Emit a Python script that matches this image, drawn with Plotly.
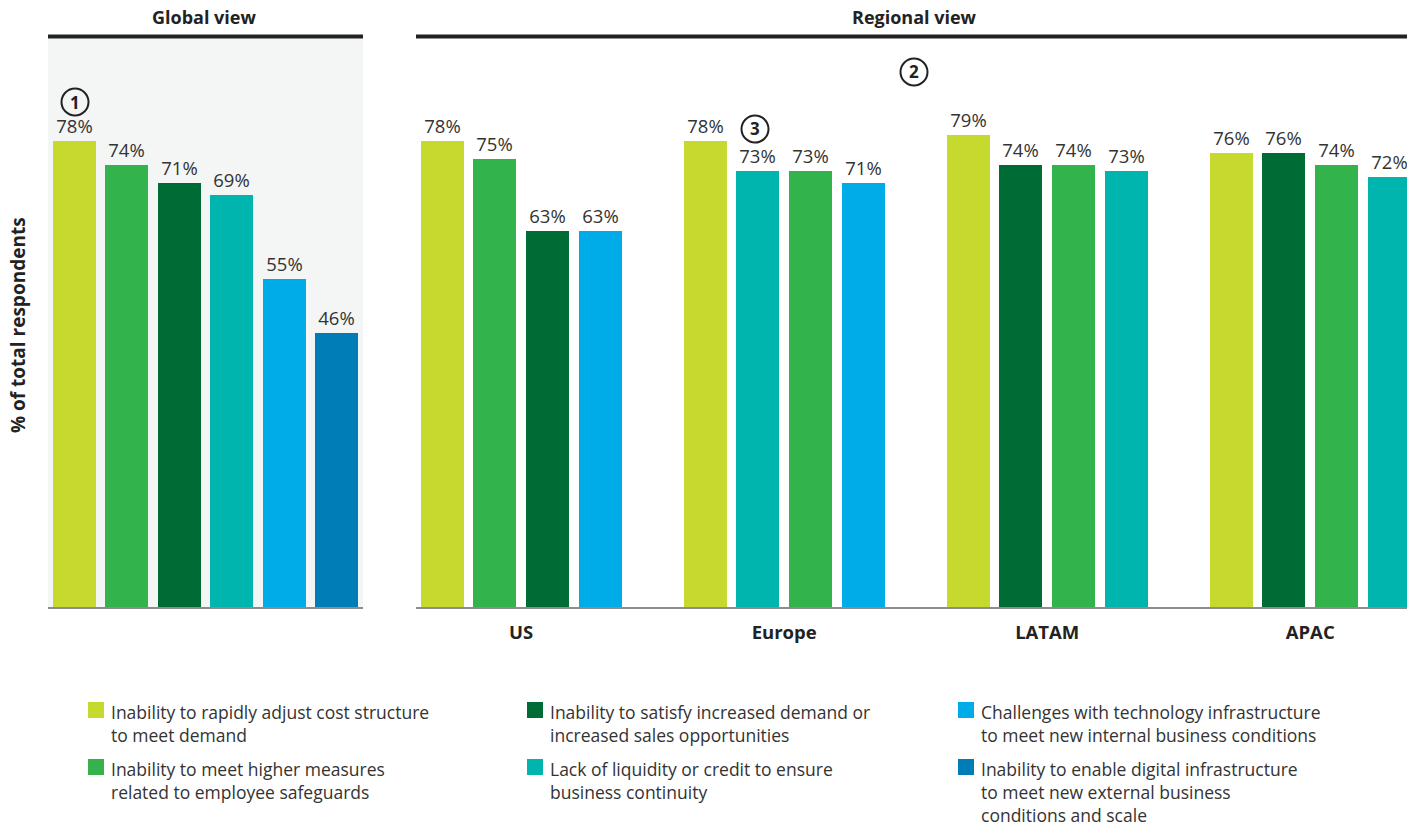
import plotly.graph_objects as go

W, H = 1407, 827

# ---------------- data ----------------
factor_labels = [
    "Inability to rapidly adjust cost structure<br>to meet demand",
    "Inability to meet higher measures<br>related to employee safeguards",
    "Inability to satisfy increased demand or<br>increased sales opportunities",
    "Lack of liquidity or credit to ensure<br>business continuity",
    "Challenges with technology infrastructure<br>to meet new internal business conditions",
    "Inability to enable digital infrastructure<br>to meet new external business<br>conditions and scale",
]
factor_colors = ["#C5D92E", "#33B34B", "#006C35", "#00B5AD", "#00ACE7", "#007DB6"]

global_factors = [0, 1, 2, 3, 4, 5]
global_values = [78, 74, 71, 69, 55, 46]

regions = ["US", "Europe", "LATAM", "APAC"]
us_factors = [0, 1, 2, 4]
us_values = [78, 75, 63, 63]
europe_factors = [0, 3, 1, 4]
europe_values = [78, 73, 73, 71]
latam_factors = [0, 2, 1, 3]
latam_values = [79, 74, 74, 73]
apac_factors = [0, 2, 1, 3]
apac_values = [76, 76, 74, 72]

region_factors = [us_factors, europe_factors, latam_factors, apac_factors]
region_values = [us_values, europe_values, latam_values, apac_values]

# ---------------- helpers ----------------
def px(x):
    return x / W


def py(y):
    return 1 - y / H


FONT = "Open Sans"
TXT = "#333333"
DARK = "#222222"
BASE_Y = 607
Y_TOP = 9.6
GROUP_STEP = 5

fig = go.Figure()

# global view bars
fig.add_trace(go.Bar(
    x=list(range(len(global_values))),
    y=global_values,
    marker=dict(color=[factor_colors[f] for f in global_factors], line=dict(width=0)),
    width=0.82,
    texttemplate="%{y}%",
    textposition="outside",
    textfont=dict(family=FONT, size=18.5, color=TXT),
    constraintext="none",
    cliponaxis=False,
    xaxis="x", yaxis="y",
    showlegend=False,
    hoverinfo="skip",
))

# regional view bars
for r, (facs, vals) in enumerate(zip(region_factors, region_values)):
    fig.add_trace(go.Bar(
        x=[GROUP_STEP * r + j for j in range(len(vals))],
        y=vals,
        marker=dict(color=[factor_colors[f] for f in facs], line=dict(width=0)),
        width=0.82,
        texttemplate="%{y}%",
        textposition="outside",
        textfont=dict(family=FONT, size=18.5, color=TXT),
        constraintext="none",
        cliponaxis=False,
        xaxis="x2", yaxis="y",
        showlegend=False,
        hoverinfo="skip",
        name=regions[r],
    ))

ydom = [py(BASE_Y), py(Y_TOP)]
reg_left, reg_right = 416, W
unit = 52.6

fig.update_layout(
    width=W, height=H,
    margin=dict(l=0, r=0, t=0, b=0, pad=0),
    paper_bgcolor="white",
    plot_bgcolor="rgba(0,0,0,0)",
    font=dict(family=FONT, color=TXT),
    showlegend=False,
    bargap=0,
    xaxis=dict(
        domain=[px(48), px(363)], range=[-0.5, 5.5], anchor="y",
        showticklabels=False, showgrid=False, zeroline=False,
        showline=True, linecolor="#8C8C8C", linewidth=2, ticks="",
        fixedrange=True,
    ),
    xaxis2=dict(
        domain=[px(reg_left), 1], range=[-0.5, -0.5 + (reg_right - reg_left) / unit], anchor="y",
        tickvals=[GROUP_STEP * r + 1.5 for r in range(len(regions))],
        ticktext=["<b>%s</b>" % g for g in regions],
        tickfont=dict(family=FONT, size=18.5, color=DARK),
        ticks="outside", ticklen=8, tickcolor="rgba(0,0,0,0)",
        showgrid=False, zeroline=False,
        showline=True, linecolor="#8C8C8C", linewidth=2,
        fixedrange=True,
    ),
    yaxis=dict(
        domain=ydom, range=[0, 100], visible=False, fixedrange=True,
    ),
)

shapes = []
annotations = []

# global panel background
shapes.append(dict(type="rect", xref="paper", yref="paper",
                   x0=px(48), x1=px(363), y0=py(BASE_Y), y1=py(38),
                   fillcolor="#F4F6F6", line=dict(width=0), layer="below"))
# header rules
for x0, x1 in [(48, 363), (416, W)]:
    shapes.append(dict(type="line", xref="paper", yref="paper",
                       x0=px(x0), x1=px(x1), y0=py(36.5), y1=py(36.5),
                       line=dict(color=DARK, width=4)))

annotations.append(dict(text="<b>Global view</b>", x=px(204), y=py(17), xref="paper", yref="paper",
                        showarrow=False, font=dict(family=FONT, size=18, color=DARK),
                        xanchor="center", yanchor="middle"))
annotations.append(dict(text="<b>Regional view</b>", x=px(914), y=py(17), xref="paper", yref="paper",
                        showarrow=False, font=dict(family=FONT, size=18, color=DARK),
                        xanchor="center", yanchor="middle"))
annotations.append(dict(text="<b>% of total respondents</b>", x=px(18), y=py(325), xref="paper", yref="paper",
                        showarrow=False, textangle=-90, font=dict(family=FONT, size=19, color=DARK),
                        xanchor="center", yanchor="middle"))

# circled callouts
for num, cx, cy in [("1", 75, 102), ("2", 914, 72), ("3", 755, 129)]:
    rad = 13.5
    shapes.append(dict(type="circle", xref="paper", yref="paper",
                       x0=px(cx - rad), x1=px(cx + rad), y0=py(cy + rad), y1=py(cy - rad),
                       line=dict(color=DARK, width=2), fillcolor="rgba(0,0,0,0)"))
    annotations.append(dict(text="<b>%s</b>" % num, x=px(cx), y=py(cy), xref="paper", yref="paper",
                            showarrow=False, font=dict(family=FONT, size=17, color=DARK),
                            xanchor="center", yanchor="middle"))

# custom legend (3 columns x 2 rows)
col_sq_x = [88, 527, 958]
row_sq_y = [702, 759]
for i, (lab, col) in enumerate(zip(factor_labels, factor_colors)):
    c, rr = i // 2, i % 2
    sx, sy = col_sq_x[c], row_sq_y[rr]
    shapes.append(dict(type="rect", xref="paper", yref="paper",
                       x0=px(sx), x1=px(sx + 16), y0=py(sy + 16), y1=py(sy),
                       fillcolor=col, line=dict(width=0)))
    annotations.append(dict(text=lab, x=px(sx + 21), y=py(sy - 4),
                            xref="paper", yref="paper",
                            showarrow=False, align="left", xanchor="left", yanchor="top",
                            font=dict(family=FONT, size=17.5, color=TXT)))

fig.update_layout(shapes=shapes, annotations=annotations)

fig.write_html("out.html", config={"displayModeBar": False},
               post_script="document.body.style.margin='0';document.body.style.overflow='hidden';")
